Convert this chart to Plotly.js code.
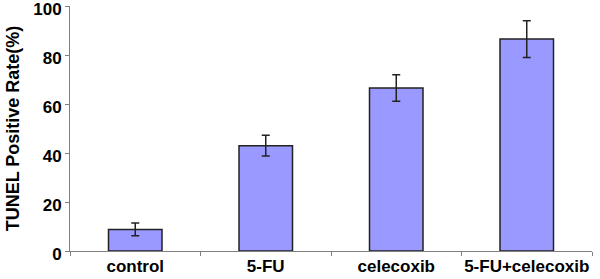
<!DOCTYPE html>
<html>
<head>
<meta charset="utf-8">
<script src="https://cdn.plot.ly/plotly-3.0.1.min.js"></script>
<style>
  html, body { margin: 0; padding: 0; background: #fff; }
  #chart { width: 600px; height: 279px; }
</style>
</head>
<body>
<div id="chart"></div>
<script>
// groups and TUNEL positive rate (%)
var groups = ["control", "5-FU", "celecoxib", "5-FU+celecoxib"];
var rates = [8.8, 43, 66.5, 86.5];
var errors = [2.6, 4.2, 5.4, 7.5];

var trace1 = {
  x: groups,
  y: rates,
  type: 'bar',
  marker: {
    color: '#9999ff',
    line: { color: '#222222', width: 1.5 }
  },
  error_y: {
    type: 'data',
    array: errors,
    visible: true,
    color: '#222222',
    thickness: 1.5,
    width: 4
  }
};

var layout = {
  width: 600,
  height: 279,
  margin: { l: 70, r: 8, t: 6, b: 28 },
  paper_bgcolor: '#ffffff',
  plot_bgcolor: '#ffffff',
  bargap: 0.59,
  showlegend: false,
  font: { family: 'Arial, "Liberation Sans", sans-serif', color: '#000000' },
  xaxis: {
    showline: true,
    linecolor: '#808080',
    linewidth: 1,
    ticks: 'outside',
    tickson: 'boundaries',
    ticklen: 4,
    tickcolor: '#808080',
    tickangle: 0,
    tickfont: { size: 17, weight: 'bold' },
    ticklabeloverflow: 'allow',
    showgrid: false,
    zeroline: false
  },
  yaxis: {
    range: [0, 100],
    dtick: 20,
    showline: true,
    linecolor: '#808080',
    linewidth: 1,
    ticks: 'outside',
    ticklen: 4,
    tickcolor: '#808080',
    tickfont: { size: 17, weight: 'bold' },
    ticklabelshift: 3,
    ticklabeloverflow: 'allow',
    showgrid: false,
    zeroline: false,
    title: {
      text: 'TUNEL Positive Rate(%)',
      font: { size: 18, weight: 'bold' },
      standoff: 8
    }
  }
};

Plotly.newPlot("chart", [trace1], layout, { displayModeBar: false, staticPlot: true });
</script>
</body>
</html>
